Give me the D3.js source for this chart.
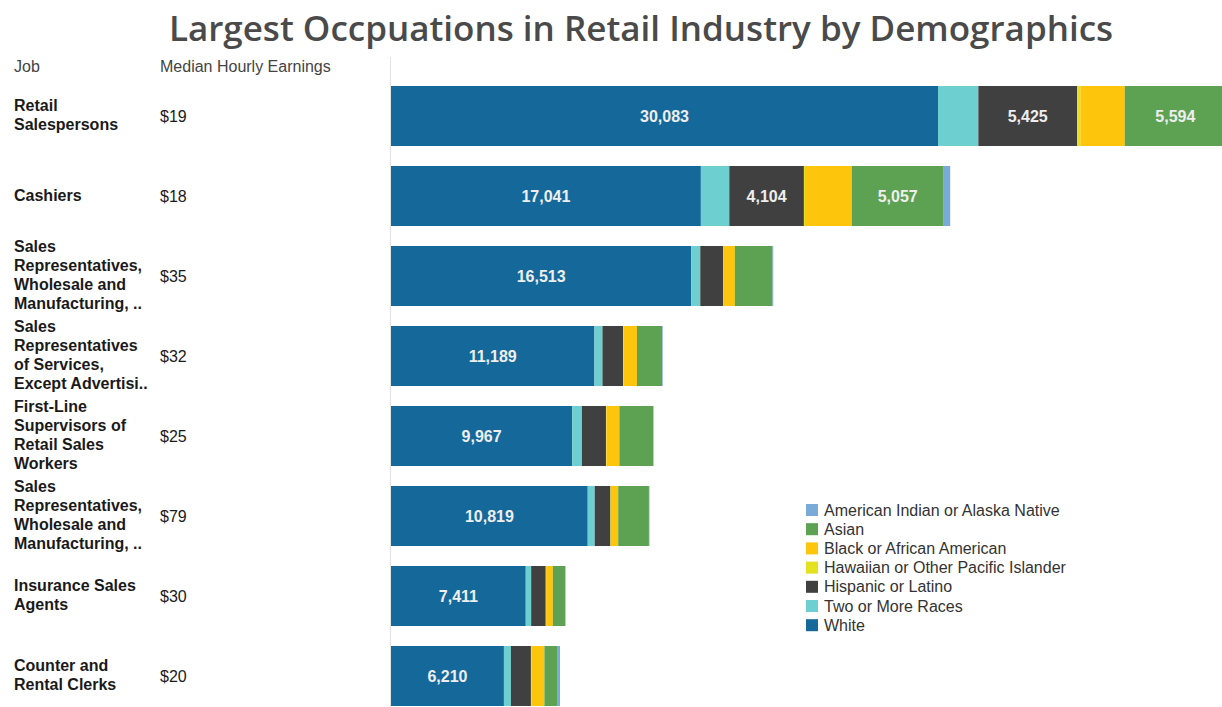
<!DOCTYPE html>
<html>
<head>
<meta charset="utf-8">
<script src="https://cdn.jsdelivr.net/npm/d3@7"></script>
<style>
  html, body { margin: 0; padding: 0; background: #fff; }
  svg { display: block; }
</style>
</head>
<body>
<svg id="chart" width="1222" height="707"></svg>
<script>
// ---------------- DATA ----------------
const jobs = [
  "Retail\nSalespersons",
  "Cashiers",
  "Sales\nRepresentatives,\nWholesale and\nManufacturing, ..",
  "Sales\nRepresentatives\nof Services,\nExcept Advertisi..",
  "First-Line\nSupervisors of\nRetail Sales\nWorkers",
  "Sales\nRepresentatives,\nWholesale and\nManufacturing, ..",
  "Insurance Sales\nAgents",
  "Counter and\nRental Clerks"
];
const earnings = ["$19", "$18", "$35", "$32", "$25", "$79", "$30", "$20"];

// stacking order (left to right)
const races = ["White", "Two or More Races", "Hispanic or Latino",
  "Hawaiian or Other Pacific Islander", "Black or African American",
  "Asian", "American Indian or Alaska Native"];
const legendOrder = ["American Indian or Alaska Native", "Asian",
  "Black or African American", "Hawaiian or Other Pacific Islander",
  "Hispanic or Latino", "Two or More Races", "White"];

const white      = [30083, 17041, 16513, 11189, 9967, 10819, 7411, 6210];
const twoOrMore  = [2218, 1563, 495, 440, 534, 385, 297, 385];
const hispanic   = [5425, 4104, 1266, 1134, 1321, 864, 803, 1101];
const hawaiian   = [180, 60, 30, 25, 25, 25, 20, 25];
const black      = [2445, 2570, 605, 737, 715, 402, 369, 715];
const asian      = [5594, 5057, 2073, 1392, 1849, 1689, 677, 732];
const amIndian   = [350, 358, 40, 30, 30, 30, 25, 127];

const colors = ["#15699a", "#6dcfcf", "#404040", "#e4e21e", "#fdc50c", "#5da152", "#7aabd8"];

// ---------------- BUILD ----------------
const seriesVals = [white, twoOrMore, hispanic, hawaiian, black, asian, amIndian];
const rows = jobs.map((j, i) => {
  const o = { idx: i };
  races.forEach((r, k) => o[r] = seriesVals[k][i]);
  return o;
});
const stacked = d3.stack().keys(races)(rows);

const svg = d3.select("#chart");
const W = 1222, H = 707;
const FONT = "'Liberation Sans', Arial, sans-serif";

const x = d3.scaleLinear().domain([0, 45700]).range([391, 1222]);
const y = d3.scaleBand().domain(d3.range(jobs.length)).range([76, 716])
  .paddingInner(0.25).paddingOuter(0.125);
const color = d3.scaleOrdinal().domain(races).range(colors);

// title
svg.append("text")
  .attr("x", 641).attr("y", 41)
  .attr("text-anchor", "middle")
  .attr("font-family", "'Open Sans', sans-serif")
  .attr("font-size", 35)
  .attr("font-weight", 600)
  .attr("fill", "#4a4a4a")
  .text("Largest Occpuations in Retail Industry by Demographics");

// headers
svg.append("text").attr("x", 14).attr("y", 72)
  .attr("font-family", FONT)
  .attr("font-size", 16).attr("fill", "#444").text("Job");
svg.append("text").attr("x", 160).attr("y", 72)
  .attr("font-family", FONT)
  .attr("font-size", 16).attr("fill", "#444").text("Median Hourly Earnings");

// divider
svg.append("line").attr("x1", 390.5).attr("x2", 390.5).attr("y1", 57).attr("y2", H)
  .attr("stroke", "#e3e3e3").attr("stroke-width", 1);

// job labels
const lh = 18.8;
const jobG = svg.append("g").attr("font-family", FONT)
  .attr("font-size", 16).attr("font-weight", "bold").attr("fill", "#1a1a1a");
jobs.forEach((j, i) => {
  const lines = j.split("\n");
  const cy = y(i) + y.bandwidth() / 2;
  const t = jobG.append("text").attr("x", 14);
  lines.forEach((ln, k) => {
    t.append("tspan").attr("x", 14)
      .attr("y", cy + (k - (lines.length - 1) / 2) * lh - 1)
      .attr("dy", "0.35em").text(ln);
  });
});

// earnings
svg.append("g").selectAll("text").data(earnings).join("text")
  .attr("x", 160)
  .attr("y", (d, i) => y(i) + y.bandwidth() / 2)
  .attr("dy", "0.35em")
  .attr("font-family", FONT)
  .attr("font-size", 16).attr("fill", "#1a1a1a")
  .text(d => d);

// bars
const barG = svg.append("g");
stacked.forEach(s => {
  barG.append("g").attr("fill", color(s.key))
    .selectAll("rect").data(s).join("rect")
    .attr("x", d => x(d[0]))
    .attr("y", (d, i) => y(i))
    .attr("width", d => Math.max(0, x(d[1]) - x(d[0])))
    .attr("height", y.bandwidth());
});

// labels
const fmt = d3.format(",");
const labG = svg.append("g").attr("font-family", FONT)
  .attr("font-size", 16).attr("font-weight", "bold").attr("fill", "#eeeeee")
  .attr("text-anchor", "middle");
stacked.forEach(s => {
  s.forEach((d, i) => {
    const x0 = x(d[0]), x1 = Math.min(x(d[1]), W + 4);
    if (x(d[1]) - x0 > 60) {
      labG.append("text")
        .attr("x", (x0 + x1) / 2)
        .attr("y", y(i) + y.bandwidth() / 2)
        .attr("dy", "0.35em")
        .text(fmt(d[1] - d[0]));
    }
  });
});

// legend
const lg = svg.append("g").attr("font-family", FONT)
  .attr("font-size", 16).attr("fill", "#333");
legendOrder.forEach((r, i) => {
  const yy = 510 + i * 19.2;
  lg.append("rect").attr("x", 806).attr("y", yy - 6).attr("width", 12).attr("height", 12)
    .attr("fill", color(r));
  lg.append("text").attr("x", 824).attr("y", yy).attr("dy", "0.35em").text(r);
});
</script>
</body>
</html>
